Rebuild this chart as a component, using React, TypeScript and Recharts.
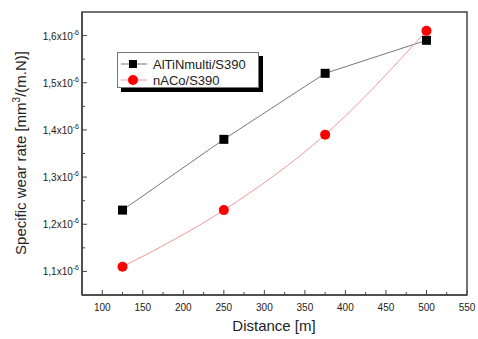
import { LineChart, Line, XAxis, YAxis, Legend, ReferenceArea } from "recharts";

const distances = [125, 250, 375, 500];
const altinMulti = [1.23, 1.38, 1.52, 1.59];
const nacoS390 = [1.11, 1.23, 1.39, 1.61];

const xTicks = [100, 125, 150, 175, 200, 225, 250, 275, 300, 325, 350, 375, 400, 425, 450, 475, 500, 525, 550];
const yTicks = [1.1, 1.15, 1.2, 1.25, 1.3, 1.35, 1.4, 1.45, 1.5, 1.55, 1.6];

const FONT = "Arial, 'Liberation Sans', sans-serif";
const AXIS = "#444";

const data = distances.map((d, i) => ({ d, a: altinMulti[i], n: nacoS390[i] }));

function XTick({ x, y, payload }: any) {
  const major = payload.value % 50 === 0;
  return (
    <g>
      <line x1={x} x2={x} y1={y} y2={y - (major ? 5 : 3)} stroke={AXIS} />
      {major && (
        <text x={x} y={y + 16} textAnchor="middle" fontSize={10} fill="#222" fontFamily={FONT}>
          {payload.value}
        </text>
      )}
    </g>
  );
}

function YTick({ x, y, payload }: any) {
  const major = Math.round(payload.value * 100) % 10 === 0;
  return (
    <g>
      <line x1={x} x2={x + (major ? 5 : 3)} y1={y} y2={y} stroke={AXIS} />
      {major && (
        <text x={x - 3} y={y + 4} textAnchor="end" fontSize={10} fill="#222" fontFamily={FONT}>
          {payload.value.toFixed(1).replace(".", ",")}x10
          <tspan dy={-5} fontSize={7}>-6</tspan>
        </text>
      )}
    </g>
  );
}

function Square({ cx, cy }: any) {
  return <rect x={cx - 4.5} y={cy - 4.5} width={9} height={9} fill="#000" />;
}

function LegendBox() {
  const rows = [
    { label: "AlTiNmulti/S390", line: "#777", marker: <rect x={10} y={2} width={8} height={8} fill="#000" /> },
    { label: "nACo/S390", line: "#f19a9a", marker: <circle cx={14} cy={6} r={5} fill="#f00" /> },
  ];
  return (
    <div
      style={{
        width: 142,
        height: 36,
        background: "#fff",
        border: "1px solid #777",
        boxShadow: "4px 4px 0 #000",
        fontFamily: FONT,
        fontSize: 13,
        color: "#222",
        boxSizing: "border-box",
        paddingTop: 3,
      }}
    >
      {rows.map((r) => (
        <div key={r.label} style={{ display: "flex", alignItems: "center", height: 16 }}>
          <svg width={34} height={12} style={{ marginLeft: 1 }}>
            <line x1={2} x2={28} y1={6} y2={6} stroke={r.line} />
            {r.marker}
          </svg>
          <span>{r.label}</span>
        </div>
      ))}
    </div>
  );
}

export default function App() {
  return (
    <div style={{ position: "absolute", left: 0, top: 0, width: 478, height: 339, background: "#fff" }}>
      <LineChart width={478} height={339} data={data} margin={{ top: 12, right: 11, bottom: 14, left: 22 }}>
        <XAxis
          dataKey="d"
          type="number"
          domain={[75, 550]}
          ticks={xTicks}
          interval={0}
          height={30}
          tickSize={0}
          tickMargin={0}
          tickLine={false}
          axisLine={{ stroke: AXIS, strokeWidth: 1.5 }}
          tick={<XTick />}
          allowDataOverflow
        />
        <YAxis
          type="number"
          domain={[1.05, 1.65]}
          ticks={yTicks}
          interval={0}
          width={60}
          tickSize={0}
          tickMargin={0}
          tickLine={false}
          axisLine={{ stroke: AXIS, strokeWidth: 1.5 }}
          tick={<YTick />}
          allowDataOverflow
        />
        <ReferenceArea x1={75} x2={550} y1={1.05} y2={1.65} fill="none" stroke={AXIS} strokeWidth={1.5} ifOverflow="visible" />
        <Legend
          layout="horizontal"
          verticalAlign="middle"
          align="center"
          content={<LegendBox />}
          wrapperStyle={{ left: 117, top: 52, width: 150 }}
        />
        <Line
          dataKey="a"
          name="AlTiNmulti/S390"
          type="linear"
          stroke="#777"
          strokeWidth={1}
          dot={<Square />}
          activeDot={false}
          isAnimationActive={false}
        />
        <Line
          dataKey="n"
          name="nACo/S390"
          type="monotone"
          stroke="#f19a9a"
          strokeWidth={1}
          dot={{ r: 5, fill: "#f00", stroke: "none" }}
          activeDot={false}
          isAnimationActive={false}
        />
      </LineChart>
      <div
        style={{
          position: "absolute",
          left: 20,
          top: 153,
          transform: "translate(-50%, -50%) rotate(-90deg)",
          whiteSpace: "nowrap",
          fontFamily: FONT,
          fontSize: 15,
          color: "#222",
        }}
      >
        Specific wear rate [mm<sup style={{ fontSize: 10 }}>3</sup>/(m.N)]
      </div>
      <div
        style={{
          position: "absolute",
          left: 274,
          top: 325,
          transform: "translate(-50%, -50%)",
          whiteSpace: "nowrap",
          fontFamily: FONT,
          fontSize: 15,
          color: "#222",
        }}
      >
        Distance [m]
      </div>
    </div>
  );
}
